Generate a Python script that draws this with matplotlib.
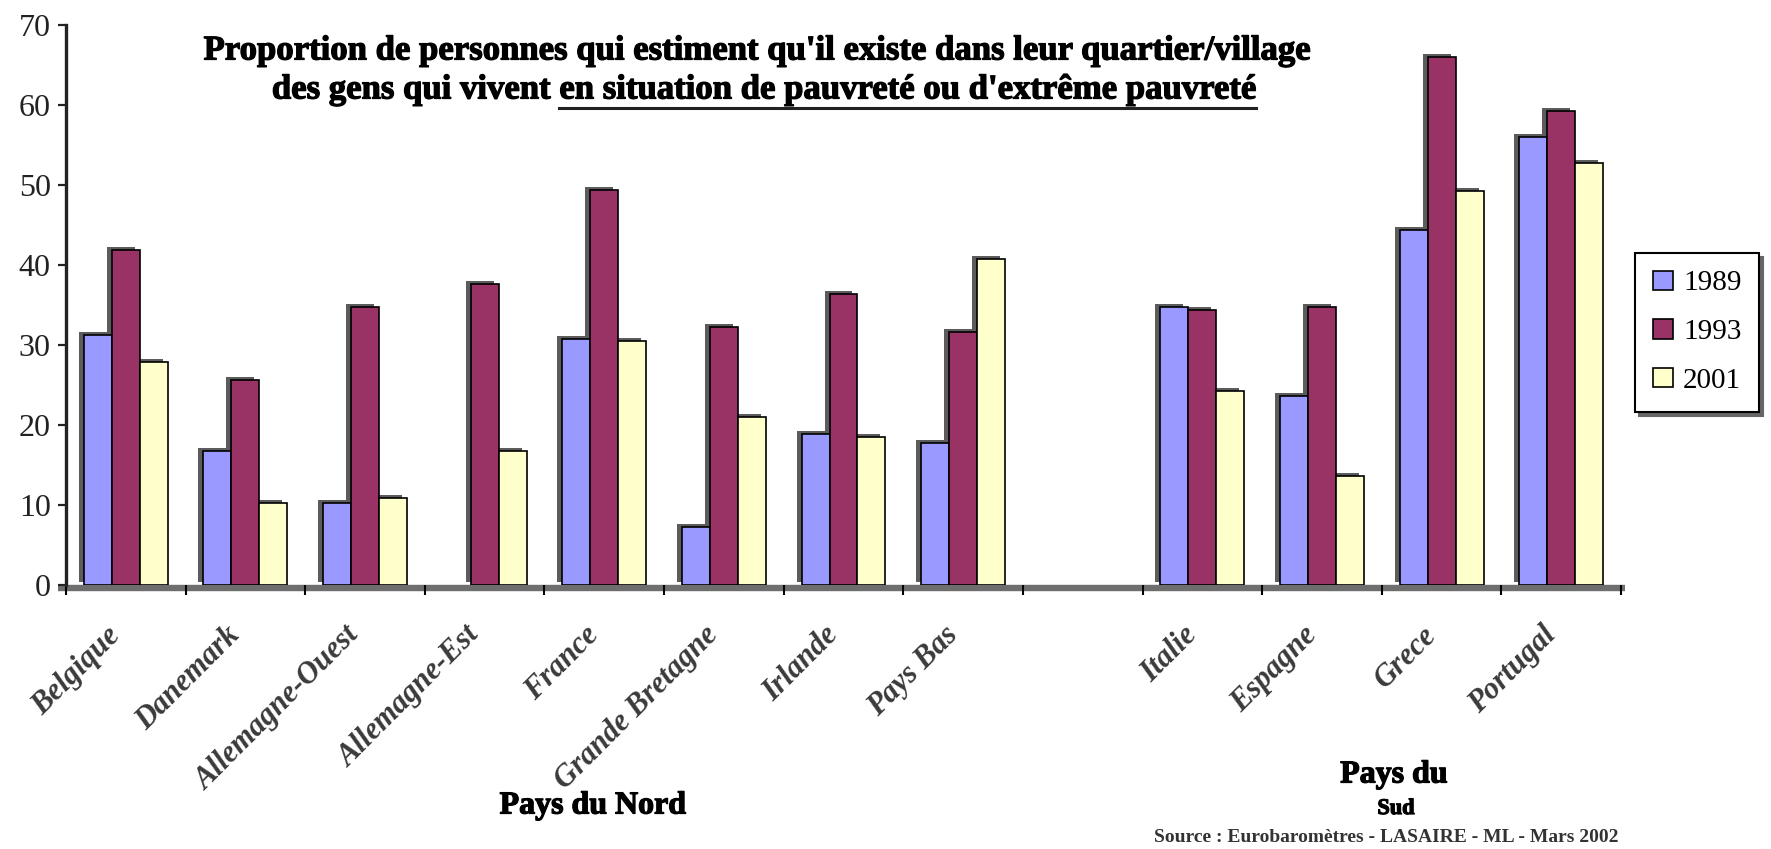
import numpy as np
import matplotlib
matplotlib.use("Agg")
import matplotlib.pyplot as plt
import matplotlib.patheffects as pe
from matplotlib.transforms import ScaledTranslation
from matplotlib.patches import Patch
from matplotlib.lines import Line2D

# ---- data -------------------------------------------------------------
pays_nord = ["Belgique", "Danemark", "Allemagne-Ouest", "Allemagne-Est",
             "France", "Grande Bretagne", "Irlande", "Pays Bas"]
pays_sud = ["Italie", "Espagne", "Grece", "Portugal"]
annees = ["1989", "1993", "2001"]

nord_1989 = [31.3, 16.8, 10.3, np.nan, 30.8, 7.3, 18.9, 17.8]
nord_1993 = [41.9, 25.6, 34.8, 37.6, 49.4, 32.2, 36.4, 31.6]
nord_2001 = [27.9, 10.3, 10.9, 16.8, 30.5, 21.0, 18.5, 40.8]

sud_1989 = [34.8, 23.6, 44.4, 56.0]
sud_1993 = [34.4, 34.7, 66.0, 59.3]
sud_2001 = [24.2, 13.6, 49.3, 52.8]

y_ticks = [0, 10, 20, 30, 40, 50, 60, 70]

titre_1 = "Proportion de personnes qui estiment qu'il existe dans leur quartier/village"
titre_2a = "des gens qui vivent "
titre_2b = "en situation de pauvreté ou d'extrême pauvreté"
source = "Source : Eurobaromètres - LASAIRE - ML - Mars 2002"

couleurs = ["#9999FF", "#993366", "#FFFFCC"]

# ---- layout -----------------------------------------------------------
plt.rcParams["font.family"] = ["Liberation Serif", "DejaVu Serif"]
W, H = 1771, 849
DPI = 100
fig = plt.figure(figsize=(W / DPI, H / DPI), dpi=DPI)
ax_left, ax_right, ax_top, ax_bottom = 66, 1621, 25, 585
ax = fig.add_axes([ax_left / W, 1 - ax_bottom / H,
                   (ax_right - ax_left) / W, (ax_bottom - ax_top) / H])


def px(dx, dy):
    return ScaledTranslation(dx / DPI, dy / DPI, fig.dpi_scale_trans)


heavy = [pe.withStroke(linewidth=0.9, foreground="black")]

# slot positions: north countries, one empty slot, then south countries
pos_nord = np.arange(len(pays_nord))
pos_sud = np.arange(len(pays_sud)) + len(pays_nord) + 1
n_slots = len(pays_nord) + 1 + len(pays_sud)

positions = np.concatenate([pos_nord, pos_sud]) + 0.5
labels = pays_nord + pays_sud
series = [nord_1989 + sud_1989, nord_1993 + sud_1993, nord_2001 + sud_2001]

bw = 0.234
for k, (vals, col) in enumerate(zip(series, couleurs)):
    vals = np.asarray(vals, dtype=float)
    ok = ~np.isnan(vals)
    x = positions[ok] + (k - 1) * bw
    # depth shadow behind each bar
    ax.bar(x, vals[ok], width=bw, color="#5c5c5c", edgecolor="none",
           transform=ax.transData + px(-5, 3), zorder=2)
    ax.bar(x, vals[ok], width=bw, color=col, edgecolor="black",
           linewidth=1.2, zorder=3, label=annees[k])

# floor band along the category axis
ax.plot([-0.07, n_slots + 0.03], [0, 0], color="#6e6e6e", lw=4.6,
        solid_capstyle="butt", transform=ax.transData + px(0, -3),
        zorder=1, clip_on=False)

ax.set_xlim(0, n_slots)
ax.set_ylim(0, 70)
ax.set_yticks(y_ticks)
ax.set_xticks(np.arange(n_slots + 1))
ax.set_xticklabels([])
ax.tick_params(axis="x", length=7, width=1.5, color="black", direction="out")
ax.tick_params(axis="y", length=6, width=1.6, color="#222222",
               direction="out", labelsize=23, pad=5, labelcolor="#222222")
for s in ["top", "right", "bottom"]:
    ax.spines[s].set_visible(False)
ax.spines["left"].set_linewidth(2.4)
ax.spines["left"].set_color("#222222")

# category labels
for x, lab in zip(positions, labels):
    ax.text(x, 0, lab, transform=ax.transData + px(-20, -36),
            rotation=45, rotation_mode="anchor", ha="right", va="top",
            fontsize=22, style="italic", weight="bold", color="#3a3a3a")

# titles
fig.text(757 / W, 1 - 51 / H, titre_1, ha="center", va="center",
         fontsize=25, weight="bold", path_effects=heavy)
t2 = fig.text(764 / W, 1 - 90 / H, titre_2a + titre_2b, ha="center",
              va="center", fontsize=25, weight="bold", path_effects=heavy)
r = fig.canvas.get_renderer()
bb = t2.get_window_extent(r)
tmp = fig.text(0, 0, titre_2b, fontsize=25, weight="bold")
wb = tmp.get_window_extent(r).width
tmp.remove()
y_ul = (H - 108) / H
fig.add_artist(Line2D([(bb.x1 - wb) / W, bb.x1 / W], [y_ul, y_ul],
                      transform=fig.transFigure, lw=2.2, color="#222222"))

# group captions and source
fig.text(593 / W, 1 - 806 / H, "Pays du Nord", ha="center", va="center",
         fontsize=23, weight="bold", path_effects=heavy)
fig.text(1394 / W, 1 - 775 / H, "Pays du", ha="center", va="center",
         fontsize=23, weight="bold", path_effects=heavy)
fig.text(1396 / W, 1 - 809 / H, "Sud", ha="center", va="center",
         fontsize=16, weight="bold", path_effects=heavy)
fig.text(1386 / W, 1 - 837 / H, source, ha="center", va="center",
         fontsize=14, weight="bold", color="#333333")

# legend
handles = [Patch(facecolor=c, edgecolor="black", linewidth=1.2) for c in couleurs]
leg = fig.legend(handles, annees, loc="upper left",
                 bbox_to_anchor=(1635 / W, 1 - 253 / H),
                 bbox_transform=fig.transFigure, frameon=True, fancybox=False,
                 edgecolor="black", fontsize=21, handlelength=0.7,
                 handleheight=0.65, handletextpad=0.35, labelspacing=0.78,
                 borderpad=0.6, borderaxespad=0,
                 shadow={"ox": 3, "oy": -3, "color": "#666666", "alpha": 1})
leg.get_frame().set_linewidth(1.5)
leg.get_frame().set_alpha(1)

fig.savefig("out.png", dpi=DPI)
